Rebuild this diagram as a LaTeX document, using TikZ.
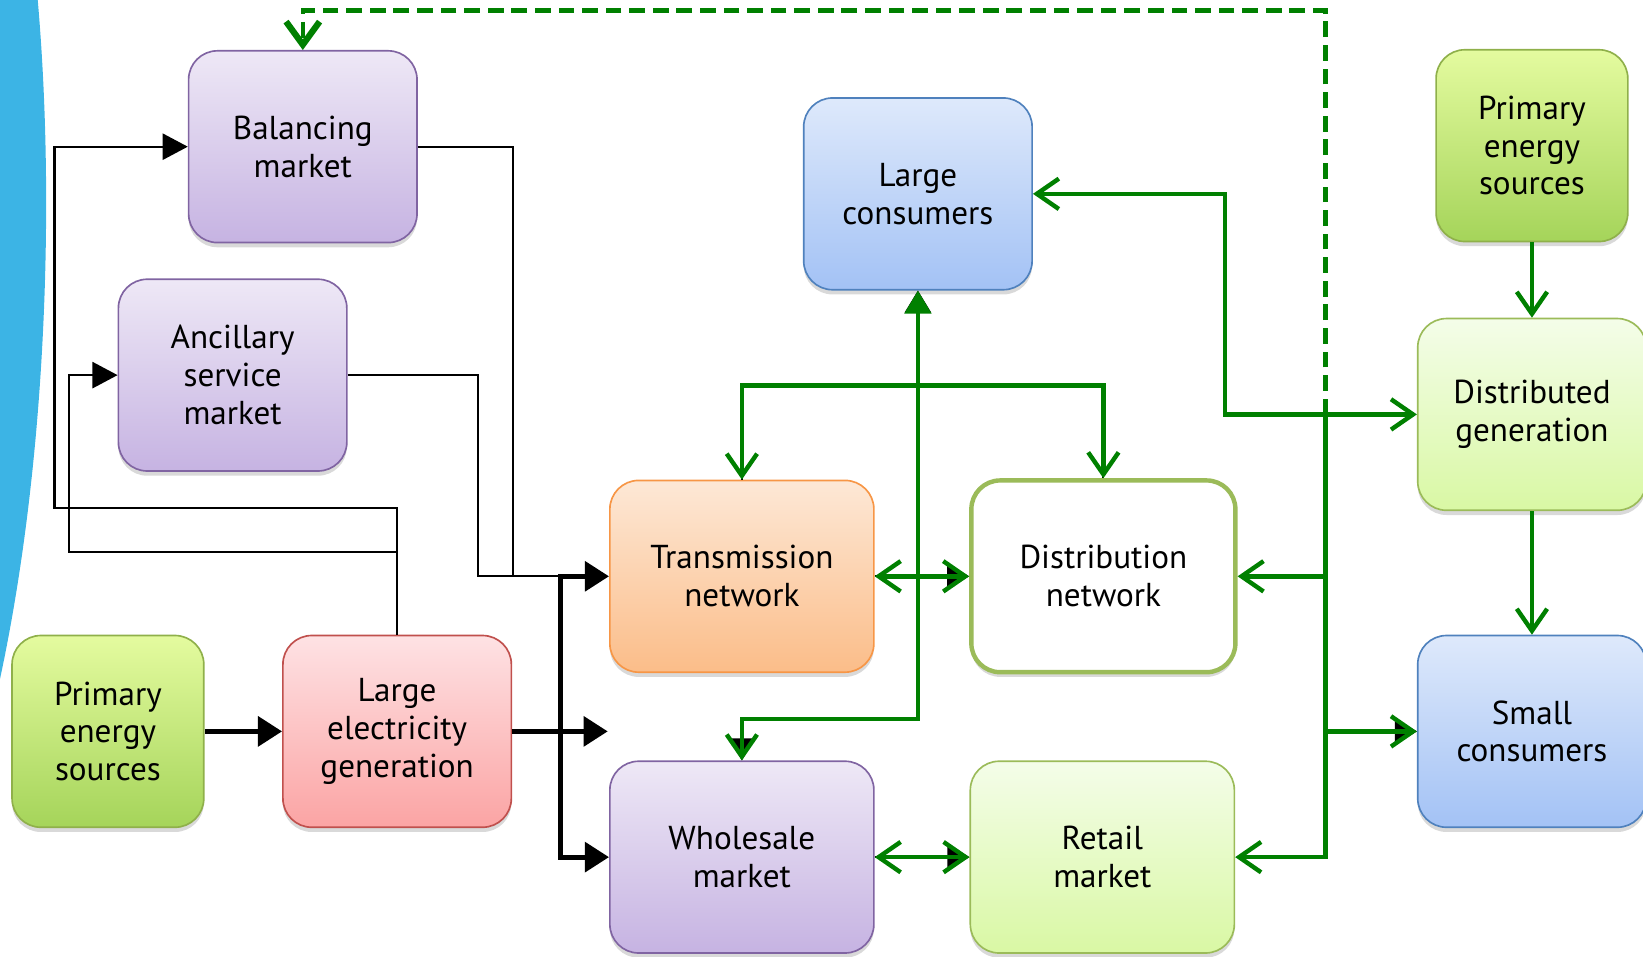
\documentclass[tikz,border=0pt]{standalone}
\usepackage{fontspec}
\setmainfont{PT Sans}
\usepackage{xcolor}
\usepackage{tikz}
\usetikzlibrary{arrows.meta,positioning,shadows}
\definecolor{emStrip}{HTML}{3CB4E5}
\definecolor{emGreen}{HTML}{008000}
\definecolor{emInk}{HTML}{000000}
\definecolor{emMktTop}{HTML}{EEE8F6}
\definecolor{emMktBot}{HTML}{C6B3E2}
\definecolor{emMktLine}{HTML}{8064A2}
\definecolor{emConTop}{HTML}{DEE9FB}
\definecolor{emConBot}{HTML}{A3C2F5}
\definecolor{emConLine}{HTML}{4F81BD}
\definecolor{emNetTop}{HTML}{FDE8D6}
\definecolor{emNetBot}{HTML}{FBBD89}
\definecolor{emNetLine}{HTML}{F79646}
\definecolor{emGenTop}{HTML}{FEE2E4}
\definecolor{emGenBot}{HTML}{FBA4A4}
\definecolor{emGenLine}{HTML}{C0504D}
\definecolor{emSrcTop}{HTML}{E4FB9F}
\definecolor{emSrcBot}{HTML}{A5D45A}
\definecolor{emSrcLine}{HTML}{8FB04A}
\definecolor{emRetTop}{HTML}{F4FDE9}
\definecolor{emRetBot}{HTML}{D9F8A4}
\definecolor{emRetLine}{HTML}{9BBB59}
\tikzset{
  blk/.style={rectangle,rounded corners=0.55cm,
    minimum width=4.36cm,minimum height=3.66cm,
    align=center,font=\fontsize{18}{20.5}\selectfont,text=emInk,
    drop shadow={shadow xshift=0pt,shadow yshift=-0.09cm,opacity=0.3}},
  mktbox/.style={blk,draw=emMktLine,line width=0.9pt,
    top color=emMktTop,bottom color=emMktBot},
  conbox/.style={blk,draw=emConLine,line width=0.9pt,
    top color=emConTop,bottom color=emConBot},
  netbox/.style={blk,minimum width=5.04cm,draw=emNetLine,line width=0.9pt,
    top color=emNetTop,bottom color=emNetBot},
  distbox/.style={blk,minimum width=5.04cm,draw=emRetLine,line width=2.4pt,
    fill=white},
  retbox/.style={blk,draw=emRetLine,line width=0.9pt,
    top color=emRetTop,bottom color=emRetBot},
  genbox/.style={blk,draw=emGenLine,line width=0.9pt,
    top color=emGenTop,bottom color=emGenBot},
  srcbox/.style={blk,minimum width=3.66cm,draw=emSrcLine,line width=0.9pt,
    top color=emSrcTop,bottom color=emSrcBot},
  ctl/.style={-{Triangle[length=0.48cm,width=0.5cm]},line width=1.1pt,color=emInk},
  ctlln/.style={line width=1.1pt,color=emInk},
  pwr/.style={-{Triangle[length=0.46cm,width=0.56cm]},line width=2.8pt,color=emInk},
  pwrln/.style={line width=2.8pt,color=emInk},
  ghost/.style={-{Triangle[length=0.42cm,width=0.5cm]},line width=1pt,color=emInk},
  grarr/.style={-{Straight Barb[length=0.42cm,width=0.58cm]},line width=2.4pt,color=emGreen},
  grboth/.style={{Straight Barb[length=0.42cm,width=0.58cm]}-{Straight Barb[length=0.42cm,width=0.58cm]},
    line width=2.4pt,color=emGreen},
  grup/.style={{Straight Barb[length=0.42cm,width=0.58cm]}-{Triangle[length=0.44cm,width=0.5cm]},
    line width=2.4pt,color=emGreen},
  grdash/.style={-{Straight Barb[length=0.44cm,width=0.64cm,line width=3.4pt]},line width=2.4pt,
    color=emGreen,dash pattern=on 0.3cm off 0.15cm},
}
\begin{document}
\begin{tikzpicture}
  \useasboundingbox (0,0) rectangle (31.36,18.26);
  % side strip
  \fill[emStrip] (0,18.26) -- (0.72,18.26)
    .. controls (1.05,14.5) and (0.9,9.5) .. (0,5.3) -- cycle;

  % markets and actors
  \node[mktbox] (bal) at (5.78,15.46) {Balancing\\market};
  \node[mktbox] (anc) at (4.44,11.10) {Ancillary\\service\\market};
  \node[srcbox] (pes) at (2.06,4.30) {Primary\\energy\\sources};
  \node[genbox] (lgen) at (7.58,4.30) {Large\\electricity\\generation};
  \node[conbox] (lcon) at (17.52,14.56) {Large\\consumers};
  \node[netbox] (trans) at (14.16,7.26) {Transmission\\network};
  \node[distbox] (dist) at (21.06,7.26) {Distribution\\network};
  \node[mktbox,minimum width=5.04cm] (whole) at (14.16,1.90) {Wholesale\\market};
  \node[retbox,minimum width=5.04cm] (retail) at (21.04,1.90) {Retail\\market};
  \node[srcbox] (pesd) at (29.24,15.48) {Primary\\energy\\sources};
  \node[retbox] (dgen) at (29.24,10.35) {Distributed\\generation};
  \node[conbox] (scon) at (29.24,4.30) {Small\\consumers};

  % bend points
  \coordinate (ctlA) at (1.04,8.56);
  \coordinate (ctlB) at (1.32,7.72);
  \coordinate (ctlC) at (9.80,7.26);
  \coordinate (ctlD) at (9.12,7.26);
  \coordinate (busT) at (10.70,7.26);
  \coordinate (busG) at (10.70,4.30);
  \coordinate (busW) at (10.70,1.90);
  \coordinate (genEnd) at (11.60,4.30);
  \coordinate (gWh) at (17.52,4.54);
  \coordinate (gTD) at (17.52,10.90);
  \coordinate (gLc) at (23.38,10.35);
  \coordinate (gBus) at (25.30,10.35);
  \coordinate (gTop) at (25.30,18.06);

  % control signals (black)
  \draw[ctl] (lgen.north) |- (ctlA) |- (bal.west);
  \draw[ctl] (lgen.north |- ctlB) -- (ctlB) |- (anc.west);
  \draw[ctlln] (bal.east) -| (ctlC) -- (busT);
  \draw[ctlln] (anc.east) -| (ctlD) -- (busT);

  % bulk power (thick black)
  \draw[pwr] (pes.east) -- (lgen.west);
  \draw[pwrln] (lgen.east) -- (busG);
  \draw[pwrln,line cap=rect] (busT) -- (busW);
  \draw[pwr] (busT) -- (trans.west);
  \draw[pwr] (busG) -- (genEnd);
  \draw[pwr] (busW) -- (whole.west);

  % old black tips left under the green ones
  \draw[ghost] (gWh) -- (lcon.south);
  \draw[ghost] (whole.north) ++(0,0.8) -- (whole.north);
  \draw[ghost] (trans.east) -- (dist.west);
  \draw[ghost] (whole.east) -- (retail.west);
  \draw[ghost] (gBus |- scon.west) -- (scon.west);
  \draw[ctlln] (trans.north) |- (gTD) -| (dist.north);

  % energy and market flows (green)
  \draw[grup] (whole.north) |- (gWh) -- (lcon.south);
  \draw[grboth] (trans.north) |- (gTD) -| (dist.north);
  \draw[grboth] (trans.east) -- (dist.west);
  \draw[grboth] (whole.east) -- (retail.west);
  \draw[grboth] (lcon.east) -| (gLc) -- (dgen.west);
  \draw[grarr] (gBus) |- (dist.east);
  \draw[grarr] (gBus) |- (scon.west);
  \draw[grarr] (gBus) |- (retail.east);
  \draw[grarr] (pesd.south) -- (dgen.north);
  \draw[grarr] (dgen.south) -- (scon.north);
  \draw[grdash] (gBus) -- (gTop) -| (bal.north);
\end{tikzpicture}
\end{document}
